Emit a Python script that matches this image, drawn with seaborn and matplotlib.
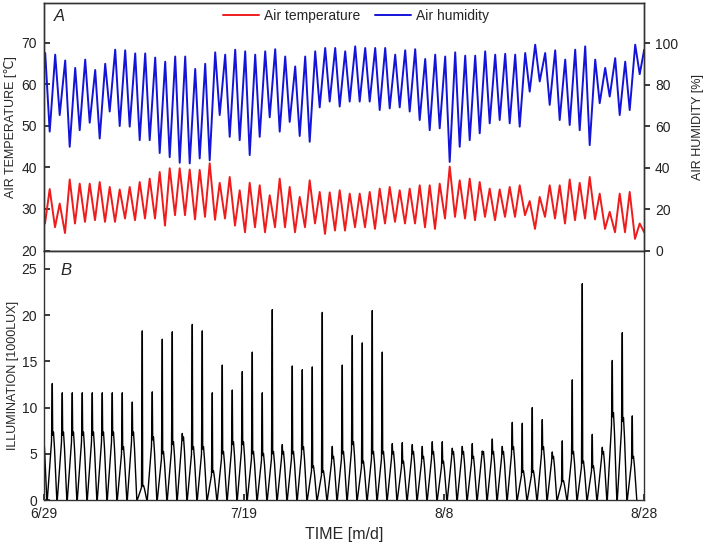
import numpy as np
import pandas as pd
import matplotlib
matplotlib.use("Agg")
import matplotlib.pyplot as plt
import seaborn as sns

# ---------------- data ----------------
# days since 6/29
tick_days = [0, 20, 40, 60]
tick_labels = ["6/29", "7/19", "8/8", "8/28"]

# air temperature: daily minimum (early morning) d0..d60, daily maximum (afternoon) d0..d59
temp_min = [26.5, 25.6, 24.2, 26.5, 26.9, 27.3, 26.9, 26.9, 27.7, 27.3,
            27.7, 27.7, 26.0, 28.5, 28.5, 27.5, 28.1, 27.4, 27.7, 26.0,
            24.4, 25.6, 24.4, 25.6, 25.6, 24.4, 25.6, 26.5, 24.0, 24.8,
            24.8, 25.6, 25.6, 25.2, 26.5, 26.9, 26.5, 26.5, 25.6, 25.2,
            27.7, 28.1, 27.7, 27.3, 28.1, 27.3, 28.1, 28.1, 28.5, 25.2,
            28.1, 27.7, 26.5, 27.3, 27.7, 27.5, 25.2, 24.4, 24.4, 22.8,
            24.4]
temp_max = [34.8, 31.3, 37.1, 36.1, 36.1, 36.5, 35.3, 34.7, 35.3, 36.5,
            37.3, 38.9, 39.8, 39.8, 39.5, 39.4, 41.0, 36.3, 37.7, 34.5,
            36.3, 35.7, 33.3, 37.3, 35.3, 32.9, 36.9, 34.1, 34.0, 34.5,
            33.7, 33.7, 34.1, 34.9, 35.3, 34.5, 34.9, 35.7, 35.7, 36.1,
            40.2, 36.9, 37.3, 36.5, 34.9, 34.7, 35.3, 35.7, 31.9, 32.9,
            35.7, 35.7, 37.1, 36.3, 37.7, 33.7, 29.3, 33.7, 34.1, 26.5]

# air humidity: daily maximum (morning) d0..d60, daily minimum (afternoon) d0..d59
hum_max = [95.2, 94.4, 91.6, 88.0, 92.0, 87.0, 90.0, 96.8, 96.5, 95.0,
           95.0, 93.0, 91.0, 93.5, 93.5, 87.5, 90.0, 95.5, 94.4, 96.8,
           96.0, 94.4, 96.0, 97.0, 93.5, 88.7, 93.5, 96.0, 97.6, 97.6,
           96.0, 98.4, 97.6, 97.6, 97.6, 94.4, 96.5, 97.0, 92.3, 94.4,
           93.5, 95.5, 93.9, 93.9, 96.0, 94.4, 94.8, 94.4, 95.2, 99.2,
           95.2, 96.5, 92.0, 96.8, 98.4, 92.0, 88.0, 92.7, 91.0, 99.2,
           96.8]
hum_min = [57.3, 65.3, 50.0, 58.0, 61.6, 54.0, 67.0, 60.0, 59.7, 53.2,
           53.2, 47.0, 45.0, 42.3, 42.0, 44.4, 43.5, 65.3, 54.8, 53.2,
           46.0, 54.8, 64.2, 57.3, 62.0, 55.2, 52.4, 69.0, 71.8, 69.4,
           71.8, 71.8, 71.8, 67.7, 68.5, 69.0, 67.0, 62.9, 58.0, 58.9,
           42.7, 50.0, 53.2, 56.5, 61.3, 62.9, 61.3, 59.7, 76.6, 81.5,
           70.2, 62.9, 60.5, 58.0, 50.8, 71.0, 74.2, 65.3, 67.7, 85.0]

# illumination (1000 lux): daily spike and following plateau, days -1..58
lux_peak = [11.6, 12.6, 11.6, 11.6, 11.6, 11.6, 11.6, 11.6, 11.6, 10.6,
            18.3, 11.7, 17.4, 18.2, 7.2, 19.0, 18.3, 11.6, 14.6, 11.9,
            13.9, 16.0, 11.6, 20.6, 6.0, 14.5, 14.1, 14.4, 20.3, 5.8,
            14.6, 17.8, 17.0, 20.5, 16.0, 6.1, 6.2, 6.0, 5.8, 6.3,
            6.3, 5.6, 5.8, 6.1, 5.3, 6.6, 5.8, 8.4, 8.3, 10.0,
            8.7, 5.2, 6.4, 13.0, 23.4, 7.1, 5.7, 15.1, 18.1, 9.1]
lux_level = [7.0, 7.0, 7.0, 7.0, 7.0, 7.0, 7.0, 7.0, 5.5, 7.0,
             1.5, 6.5, 5.0, 6.0, 6.5, 5.5, 5.5, 3.0, 5.0, 6.0,
             6.0, 5.0, 4.8, 5.0, 5.0, 5.0, 5.5, 3.5, 3.0, 4.5,
             5.0, 6.0, 4.0, 5.0, 5.0, 5.0, 4.0, 5.0, 4.5, 5.0,
             4.0, 5.0, 5.0, 4.5, 5.0, 5.0, 5.0, 5.5, 3.0, 3.0,
             5.5, 4.5, 2.0, 5.0, 4.0, 3.5, 5.0, 9.0, 8.5, 4.5]

# ---------------- build the time series tables ----------------
t_x, t_y = [], []
for d in range(len(temp_max)):
    t_x += [d + 0.10, d + 0.57]
    t_y += [temp_min[d], temp_max[d]]
t_x.append(len(temp_max) + 0.02)
t_y.append(temp_min[-1])
df_t = pd.DataFrame({"day": t_x, "value": t_y})

h_x, h_y = [], []
for d in range(len(hum_min)):
    h_x += [d + 0.12, d + 0.57]
    h_y += [hum_max[d], hum_min[d]]
h_x.append(len(hum_min) + 0.02)
h_y.append(hum_max[-1])
df_h = pd.DataFrame({"day": h_x, "value": h_y})

l_x, l_y = [], []
for i, (pk, lv) in enumerate(zip(lux_peak, lux_level)):
    p = (i - 1) + 0.83
    l_x += [p - 0.50, p - 0.08, p, p + 0.04, p + 0.12, p + 0.22, p + 0.45]
    l_y += [0.0, 0.9 * lv, pk, lv, 1.05 * lv, 0.8 * lv, 0.0]
df_l = pd.DataFrame({"day": l_x, "value": l_y})

# ---------------- figure ----------------
sns.set_theme(style="white")
plt.rcParams["font.family"] = ["Liberation Sans", "DejaVu Sans"]
plt.rcParams["axes.edgecolor"] = "#333333"
plt.rcParams["axes.linewidth"] = 1.0

W, H = 706, 545
fig = plt.figure(figsize=(W / 100, H / 100), dpi=100)
ax1 = fig.add_axes([44 / W, 1 - 250.5 / H, 600 / W, 247.5 / H])
ax2 = fig.add_axes([44 / W, 45 / H, 600 / W, 249.5 / H])
ax1r = ax1.twinx()

red = "#ee1c1c"
blue = "#1414d8"

sns.lineplot(data=df_t, x="day", y="value", ax=ax1, color=red, linewidth=1.4,
             estimator=None, label="Air temperature", legend=False)
sns.lineplot(data=df_h, x="day", y="value", ax=ax1r, color=blue, linewidth=1.4,
             estimator=None, label="Air humidity", legend=False)
sns.lineplot(data=df_l, x="day", y="value", ax=ax2, color="black", linewidth=1.0,
             estimator=None, legend=False)

# top panel
ax1.set_xlim(0, 60)
ax1.set_ylim(20, 79.6)
ax1.set_yticks([20, 30, 40, 50, 60, 70])
ax1r.set_ylim(0, 119.3)
ax1r.set_yticks([0, 20, 40, 60, 80, 100])
ax1.set_xticks([])
ax1.set_xlabel("")
ax1.set_ylabel("AIR TEMPERATURE [\u2103]", fontsize=9)
ax1.yaxis.set_label_coords(-0.045, 0.5)
ax1r.set_ylabel("AIR HUMIDITY [%]", fontsize=9)
ax1r.yaxis.set_label_coords(1.08, 0.5)
ax1.tick_params(axis="y", direction="in", length=4, labelsize=10, pad=5,
                left=True, colors="#222222")
ax1r.tick_params(axis="y", direction="out", length=4, labelsize=10, pad=4,
                 right=True, colors="#222222")
ax1.text(0.017, 0.945, "A", transform=ax1.transAxes, fontsize=12,
         fontstyle="italic", va="center", ha="left")

handles = ax1.get_lines()[:1] + ax1r.get_lines()[:1]
ax1.legend(handles, ["Air temperature", "Air humidity"], loc="center",
           bbox_to_anchor=(0.52, 0.948), ncol=2, frameon=False, fontsize=10,
           handlelength=2.6, columnspacing=1.0, handletextpad=0.4)

# bottom panel
ax2.set_xlim(0, 60)
ax2.set_ylim(0, 27.0)
ax2.set_yticks([0, 5, 10, 15, 20, 25])
ax2.set_xticks(tick_days)
ax2.set_xticklabels(tick_labels)
ax2.set_xlabel("TIME [m/d]", fontsize=11.5, labelpad=4)
ax2.set_ylabel("ILLUMINATION [1000LUX]", fontsize=9)
ax2.yaxis.set_label_coords(-0.041, 0.5)
ax2.tick_params(axis="both", direction="in", length=4, labelsize=10, pad=5,
                left=True, bottom=True, colors="#222222")
ax2.text(0.028, 0.92, "B", transform=ax2.transAxes, fontsize=12,
         fontstyle="italic", va="center", ha="left")

for a in (ax1, ax1r, ax2):
    for s in a.spines.values():
        s.set_visible(True)
        s.set_color("#333333")

fig.savefig("out.png", dpi=100)
